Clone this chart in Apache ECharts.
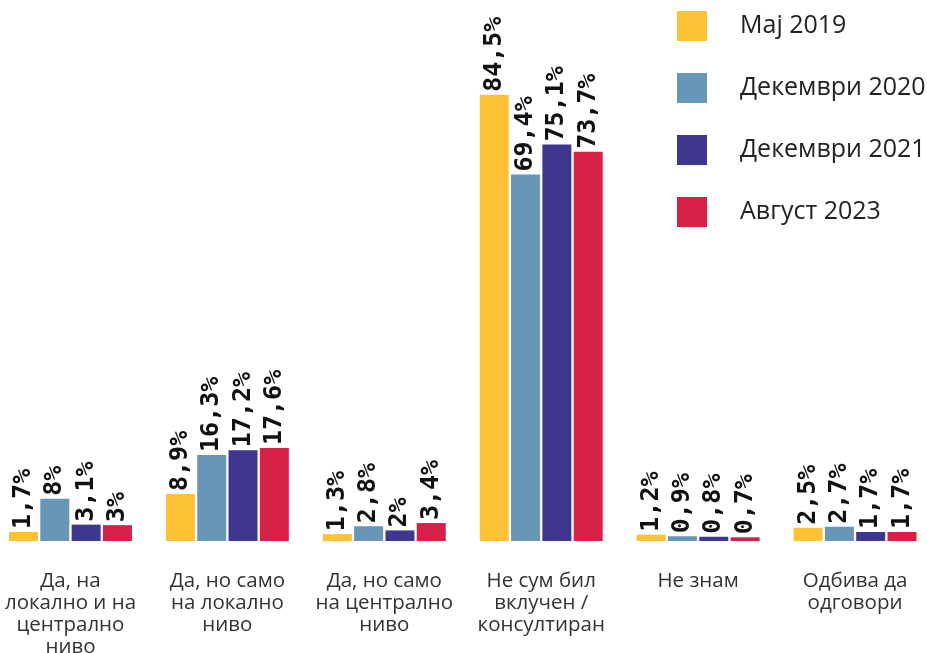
<!DOCTYPE html>
<html><head><meta charset="utf-8">
<script src="https://cdn.jsdelivr.net/npm/echarts@6/dist/echarts.min.js"></script>
<style>html,body{margin:0;padding:0;background:#fff}#c{width:927px;height:653px}</style>
</head><body><div id="c"></div>
<script>
const categories = ["Да, на\nлокално и на\nцентрално\nниво", "Да, но само\nна локално\nниво", "Да, но само\nна централно\nниво", "Не сум бил\nвклучен /\nконсултиран", "Не знам", "Одбива да\nодговори"];
const seriesNames = ["Мај 2019", "Декември 2020", "Декември 2021", "Август 2023"];
const may2019 = [1.7, 8.9, 1.3, 84.5, 1.2, 2.5];
const dec2020 = [8, 16.3, 2.8, 69.4, 0.9, 2.7];
const dec2021 = [3.1, 17.2, 2, 75.1, 0.8, 1.7];
const aug2023 = [3, 17.6, 3.4, 73.7, 0.7, 1.7];
const colors = ["#FDC136", "#6896B7", "#3F3690", "#D52048"];

const allData = [may2019, dec2020, dec2021, aug2023];
const chart = echarts.init(document.getElementById('c'));
chart.setOption({
  animation: false,
  backgroundColor: '#fff',
  color: colors,
  legend: {
    orient: 'vertical', left: 677, top: 11, padding: 0,
    itemWidth: 30, itemHeight: 30, itemGap: 32,
    icon: 'rect',
    textStyle: { fontFamily: 'Open Sans', fontSize: 25, color: '#222', padding: [0, 0, 0, 28] },
    data: seriesNames
  },
  grid: { left: -8, width: 941.5, top: 13, bottom: 112, containLabel: false, outerBoundsMode: 'none' },
  xAxis: {
    type: 'category', data: categories,
    axisLine: { show: false }, axisTick: { show: false },
    axisLabel: { interval: 0, margin: 29, fontFamily: 'Open Sans', fontSize: 20.5, lineHeight: 22, color: '#333' }
  },
  yAxis: { type: 'value', min: 0, max: 100, show: false, splitLine: { show: false } },
  series: allData.map((d, i) => ({
    name: seriesNames[i], type: 'bar', data: d,
    barWidth: 29, barGap: '8%',
    label: {
      show: true, position: 'top', rotate: 90, align: 'left', verticalAlign: 'middle', distance: 3,
      fontFamily: 'DejaVu Sans Mono', fontWeight: 'bold', fontSize: 25, color: '#111',
      formatter: p => String(p.value).replace('.', ',') + '%'
    }
  }))
});
</script></body></html>
